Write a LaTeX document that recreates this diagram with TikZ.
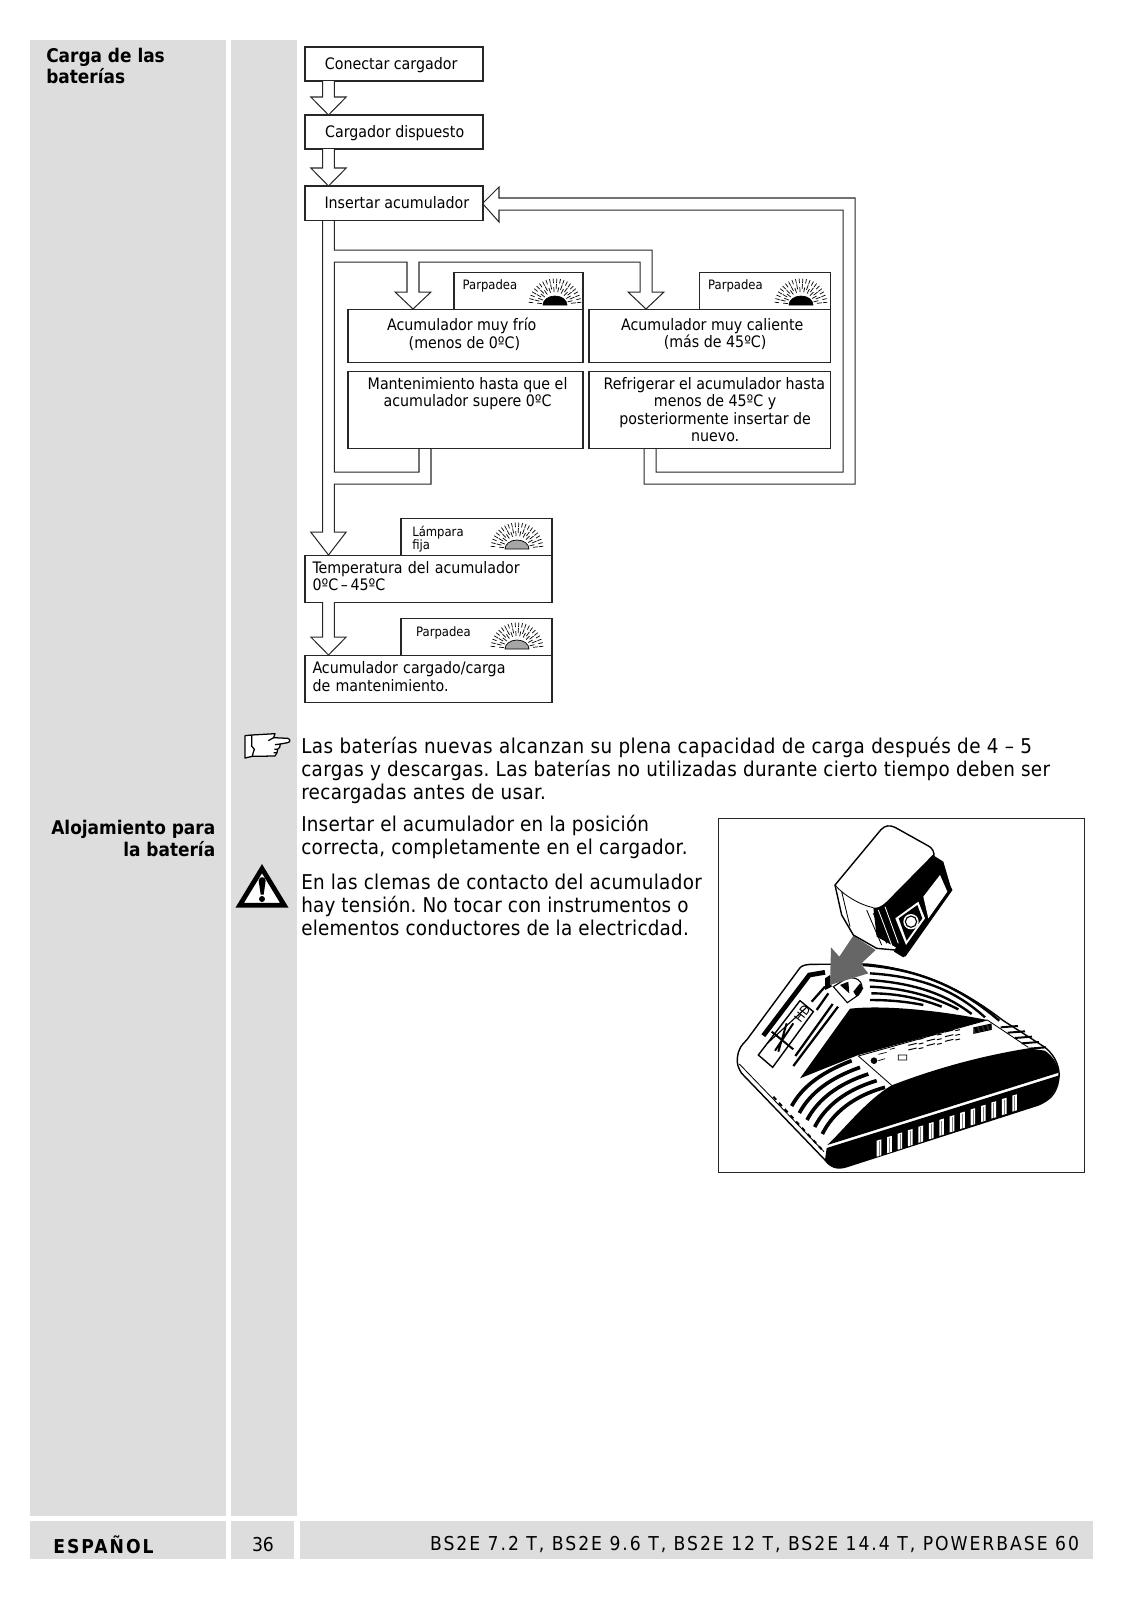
\documentclass[tikz,border=0pt]{standalone}
\usepackage{fontspec}
\setmainfont{DejaVu Sans Condensed}
\definecolor{pagegray}{HTML}{DDDDDD}
\definecolor{arrowgray}{HTML}{666666}
\def\pu{0.025cm} % one pixel of the page
\def\lowtext{\rule{0pt}{10.2pt}} % pushes a line down
\def\hightext#1{\rule[-#1pt]{0pt}{#1pt}} % pushes a block up
\tikzset{
  flowline/.style={draw=black!85,line width=0.72pt,fill=white,line join=miter},
  flowbox/.style={flowline,outer sep=0,anchor=north west,align=center,inner sep=0,
    font=\fontsize{11.25}{12.4}\selectfont},
  tabbox/.style={flowline,outer sep=0,anchor=south east,minimum height=37*\pu},
  tabtext/.style={font=\fontsize{9.2}{9.4}\selectfont,align=left,inner sep=0},
  bodytext/.style={anchor=west,align=left,inner sep=0,font=\fontsize{14.5}{16.45}\selectfont\frenchspacing\addfontfeatures{LetterSpace=1.7}},
  sidetext/.style={align=left,inner sep=0,font=\fontsize{13.4}{15.6}\selectfont\bfseries},
  foottext/.style={inner sep=0,font=\fontsize{13.6}{16}\selectfont},
}
% lamp symbol: x, y, fill of the dome
\newcommand{\lampsign}[3]{
  \foreach \a [count=\i] in {6,14,...,174}{ % rays
    \pgfmathsetmacro\rin{mod(\i,2)==0?13:16}
    \draw[black,line width=0.5pt] (#1,#2) ++(-\a:\rin) -- ++(-\a:5);
    \draw[black,line width=0.5pt] (#1,#2) ++(-\a:22) -- ++(-\a:4.5);
  }
  \draw[black,line width=0.5pt,fill=#3] (#1-12,#2) arc[start angle=180,end angle=360,x radius=12,y radius=9] -- cycle;
}
% hollow arrow going down: x of the tip, from node, to node
\newcommand{\hollowdown}[3]{
  \coordinate (tip) at (#1,0 |- #3.north);
  \path (tip) ++(-5.8,-18) coordinate (baseleft);
  \path (tip) ++(5.8,-18) coordinate (baseright);
  \draw[flowline] (baseleft |- #2.south) -- (baseleft) -- ++(-11.9,0)
    -- (tip) -- ++(17.7,-18) -- (baseright) -- (baseright |- #2.south);
}
\begin{document}
\begin{tikzpicture}[x=\pu,y=-\pu]
  \useasboundingbox (0,0) rectangle (1128,1600);
  % gray bands
  \fill[pagegray] (30,40) rectangle (226,1516);
  \fill[pagegray] (231,40) rectangle (297,1516);
  \fill[pagegray] (30,1521) rectangle (226,1559);
  \fill[pagegray] (231,1521) rectangle (294,1559);
  \fill[pagegray] (300,1521) rectangle (1093,1559);
  % side headings
  \node[sidetext,anchor=west] (carga) at (46,66) {Carga de las\\baterías};
  \node[sidetext,anchor=east,align=right] (alojamiento) at (215.5,838) {Alojamiento para\\la batería};
  % flow boxes
  \node[flowbox,minimum width=178*\pu,minimum height=34*\pu] (conectar) at (305,47) {\lowtext Conectar cargador\hspace{4pt}};
  \node[flowbox,minimum width=178*\pu,minimum height=34*\pu] (dispuesto) at (305,115) {\lowtext\hspace{1pt}Cargador dispuesto};
  \node[flowbox,minimum width=178*\pu,minimum height=34*\pu] (insertar) at (305,186) {\hspace{4pt}Insertar acumulador};
  \node[flowbox,minimum width=235*\pu,minimum height=53*\pu] (frio) at (348,309) {Acumulador muy frío\hspace*{5.2pt}\\(menos de 0ºC)\hspace{1.5pt}\hightext{3.4}};
  \node[flowbox,minimum width=241*\pu,minimum height=53*\pu] (caliente) at (589,309) {\hspace{4pt}Acumulador muy caliente\\\hspace{8pt}(más de 45ºC)\hightext{3.4}};
  \node[flowbox,minimum width=235*\pu,minimum height=77*\pu] (mantener) at (348,371) {\hspace{3pt}Mantenimiento hasta que el\\\hspace{3pt}acumulador supere 0ºC\\ \\ };
  \node[flowbox,minimum width=241*\pu,minimum height=77*\pu] (refrigerar) at (589,371) {\hspace{7pt}Refrigerar el acumulador hasta\\\hspace{8pt}menos de 45ºC y\\\hspace{8pt}posteriormente insertar de\\\hspace{8pt}nuevo.};
  \node[flowbox,align=left,minimum height=47*\pu,text width=232*\pu,inner xsep=7.5*\pu] (temperatura) at (305,555) {Temperatura del acumulador\\0ºC\,–\,45ºC\hightext{3.6}};
  \node[flowbox,align=left,minimum height=47*\pu,text width=232*\pu,inner xsep=7.5*\pu] (cargado) at (305,655) {Acumulador cargado/carga\\de mantenimiento.\hightext{3}};
  % lamp tabs
  \node[tabbox,minimum width=129*\pu] (tabfrio) at (frio.north east) {};
  \node[tabbox,minimum width=131*\pu] (tabcaliente) at (caliente.north east) {};
  \node[tabbox,minimum width=151*\pu] (tabfija) at (temperatura.north east) {};
  \node[tabbox,minimum width=151*\pu] (tabcargado) at (cargado.north east) {};
  \node[tabtext] (parpadeafrio) at (490,285.5) {Parpadea};
  \node[tabtext] (parpadeacaliente) at (735.5,285.5) {Parpadea};
  \node[tabtext,anchor=west] (lampara) at (412,539) {Lámpara\\fija};
  \node[tabtext] (parpadeacargado) at (443.5,632.5) {Parpadea};
  \lampsign{555}{305}{black}
  \lampsign{801}{305}{black}
  \lampsign{517}{549}{black!35}
  \lampsign{517}{649}{black!35}
  % hollow arrows
  \hollowdown{328.5}{conectar}{dispuesto}
  \hollowdown{328.5}{dispuesto}{insertar}
  \hollowdown{328.5}{temperatura}{cargado}
  \draw[flowline,fill=none] (322.7,0 |- insertar.south) -- (322.7,532) -- (310.7,532) -- (328.5,0 |- temperatura.north) -- (346.2,532)
    -- (334.3,532) -- (334.3,484) -- (431,484) -- (431,0 |- mantener.south); % down to the temperature box
  \draw[flowline,fill=none] (419,0 |- mantener.south) -- (419,472) -- (334.3,472) -- (334.3,262) -- (407,262) -- (407,292) -- (395,292)
    -- (413,0 |- frio.north) -- (431,292) -- (419,292) -- (419,262) -- (640,262) -- (640,292) -- (628,292)
    -- (646,0 |- caliente.north) -- (664,292) -- (652,292) -- (652,250) -- (334.3,250) -- (334.3,0 |- insertar.south); % both branches
  \draw[flowline,fill=none] (644,0 |- refrigerar.south) -- (644,484) -- (855,484) -- (855,198) -- (499,198) -- (499,187)
    -- (insertar.east) ++(0,1) -- (499,222) -- (499,210) -- (843,210) -- (843,472) -- (656,472) -- (656,0 |- refrigerar.south); % way back
  % pointing hand
  \begin{scope}[shift={(225,720)},scale=1/3,line width=0.9pt,line join=round]
    \draw[fill=white] (60,47) -- (80,45) -- (150,41) -- (146,53) -- (188,55) .. controls (197,58) and (197,66) .. (188,68) -- (166,72)
      -- (164,82) -- (158,88) -- (156,98) -- (150,108) -- (82,109) -- (60,114) -- cycle;
    \draw (80,45) -- (80,78) -- (88,88) -- (84,100) -- (82,109);
    \draw (146,53) -- (130,62) (166,72) -- (150,74) (158,88) -- (148,88) (156,98) -- (146,98);
  \end{scope}
  % warning sign
  \begin{scope}[shift={(225,720)},scale=1/3]
    \draw[line width=3.4pt,line join=miter,fill=white] (111,446) -- (178,556) -- (44,556) -- cycle;
    \fill[black] (101,482) .. controls (101,468) and (122,468) .. (122,482) -- (116,524) -- (107,524) -- cycle;
    \fill[black] (111,537) circle[radius=9];
  \end{scope}
  % body text
  \node[bodytext] (nuevas) at (301,770.5) {{\addfontfeatures{LetterSpace=2.4}Las baterías nuevas alcanzan su plena capacidad de carga después de 4 – 5}\\cargas y descargas. Las baterías no utilizadas durante cierto tiempo deben ser\\recargadas antes de usar.};
  \node[bodytext] (posicion) at (301,837) {\addfontfeatures{LetterSpace=1.1}Insertar el acumulador en la posición\\correcta, completamente en el cargador.};
  \node[bodytext] (clemas) at (301,905) {En las clemas de contacto del acumulador\\{\addfontfeatures{LetterSpace=1.1}hay tensión. No tocar con instrumentos o}\\{\addfontfeatures{LetterSpace=1.1}elementos conductores de la electricdad.}};
  % charger picture
  \draw[black!85,line width=0.7pt] (718,818) rectangle (1084,1172);
  \begin{scope}[shift={(710,810)},scale=1/3]
    % base
    \draw[black,line width=1pt,fill=white,line join=round] (82,745) .. controls (85,715) and (95,705) .. (110,690) -- (265,480) .. controls (272,468) and (280,465) .. (300,463)
      -- (470,462) .. controls (640,480) and (760,540) .. (880,632) -- (1005,712) .. controls (1040,740) and (1052,780) .. (1046,810)
      .. controls (1040,850) and (1020,870) .. (985,885) -- (410,1070) .. controls (380,1080) and (360,1070) .. (345,1050) -- (95,790) .. controls (85,775) and (80,760) .. (82,745) -- cycle;
    \draw[black,line width=0.6pt] (88,762) -- (342,1025);
    \draw[black,line width=1.4pt,dashed] (190,860) -- (335,1018);
    % black faces
    \fill[black] (270,805) -- (420,596) .. controls (520,585) and (680,600) .. (832,630) -- (445,735) -- cycle;
    \fill[black] (352,1005) .. controls (400,960) and (470,870) .. (545,826) .. controls (690,770) and (830,735) .. (955,715)
      -- (1005,722) .. controls (1030,740) and (1045,765) .. (1046,788) -- cycle;
    \fill[black] (350,1014) -- (1048,796) .. controls (1045,840) and (1020,870) .. (985,885) -- (410,1070) .. controls (380,1080) and (360,1070) .. (345,1050) -- cycle;
    % front slots
    \foreach \i in {0,...,13}{
      \fill[white] ({500+31.3*\i},{992-10.4*\i}) -- ++(14,-4) -- ++(0,48) -- ++(-14,4) -- cycle;
      \draw[black!50,line width=0.4pt] ({507+31.3*\i},{994-10.4*\i}) -- ++(0,44);
    }
    % stripes over the panel
    \foreach \xa/\ya/\xb/\yb/\xc/\yc/\xd/\yd in {458/465/640/478/760/540/868/632,480/490/640/500/740/545/825/622,478/510/620/520/710/555/785/612,
      480/530/590/535/670/560/745/598,484/550/560/550/630/565/695/590,480/570/540/570/590/575/640/585}{
      \draw[black,line width=1.7pt] (\xa,\ya) .. controls (\xb,\yb) and (\xc,\yc) .. (\xd,\yd);
    }
    % stripes at the front corner
    \foreach \i in {0,...,4}{
      \draw[black,line width=2.6pt] ({245+23*\i},{888+21*\i}) .. controls ({280+22*\i},{825+21*\i}) and ({340+23*\i},{785+18*\i}) .. ({425+25*\i},{752+20*\i});
    }
    % stripes at the rear rim
    \foreach \i in {0,...,4}{
      \draw[black,line width=1.4pt] ({872+21*\i},{652+16*\i}) -- ++(52,-4);
    }
    % display panel
    \draw[black,line width=0.6pt] (445,738) -- (832,630) -- (955,712);
    \draw[black,line width=0.6pt] (445,738) -- (545,826);
    \fill[black] (492,752) circle[radius=10];
    \foreach \d/\e in {0/0,55/-13,110/-26}{ % led marks
      \foreach \r in {0,1,2}{
        \draw[black,line width=0.7pt] ({595+\d},{692+\e+\r*14}) -- ++(25,-6) ++(6,2) -- ++(14,-3);
      }
    }
    \foreach \r in {0,...,5}{ % hatch
      \draw[black,line width=0.8pt] (790,{654+\r*3.2}) -- ++(55,-12);
    }
    \draw[black,line width=0.5pt] (505,733) -- (530,727) (540,718) -- (555,714) (505,752) -- (525,746) (565,735) rectangle (590,750);
    % rear pad
    \draw[black,line width=3.4pt] (160,677) -- (298,495) -- (345,487);
    \draw[black,line width=1pt,fill=white] (145,735) -- (270,572) -- (310,605) -- (188,772) -- cycle;
    \draw[black,line width=0.8pt] (172,700) -- (292,590);
    \draw[black,line width=1.4pt] (185,665) -- (250,718) (250,640) -- (195,722) (230,640) -- (205,725);
    \node[rotate=52,inner sep=0,font=\fontsize{9}{9}\selectfont] (hd) at (277,610) {HD};
    \draw[black,line width=1.6pt] (250,768) -- (384,590) (256,738) -- (368,582) (305,575) -- (345,530) (320,600) -- (355,550);
    \fill[black] (345,505) -- (360,495) -- (365,530) -- (345,540) -- cycle;
    \draw[black,line width=0.8pt,fill=white] (370,530) -- (410,505) .. controls (450,495) and (470,530) .. (445,555) -- (412,578) -- cycle;
    \fill[black] (390,525) -- (415,515) -- (418,550) -- cycle;
    \fill[black] (430,545) -- (450,520) -- (460,535) -- (440,560) -- cycle;
    % gray arrow
    \fill[arrowgray] (430,377) -- (497,420) -- (452,462) -- (475,490) -- (360,525) -- (363,412) -- (388,440) -- cycle;
    % battery
    \draw[black,line width=1pt,fill=white,line join=round] (375,225) -- (512,60) .. controls (525,45) and (540,45) .. (555,52) -- (650,105) .. controls (670,115) and (672,125) .. (672,140)
      -- (725,240) -- (585,438) -- (555,420) -- (500,415) -- (430,375) -- (395,315) -- cycle;
    \fill[black] (490,293) .. controls (500,295) and (515,290) .. (530,275) -- (668,135) -- (700,155) -- (725,240) -- (580,442) -- (552,425) -- (558,412) -- (500,380) -- cycle;
    \draw[black,line width=0.6pt] (375,225) .. controls (400,255) and (450,285) .. (490,293) (395,245) -- (420,350) (470,300) -- (515,405) (490,310) -- (530,400);
    \draw[white,line width=0.6pt] (505,300) -- (545,405) (525,290) -- (565,400);
    \fill[white] (640,260) -- (690,195) -- (712,245) -- (655,325) -- cycle;
    \fill[white] (556,325) -- (625,275) -- (645,325) -- (588,405) -- cycle;
    \fill[black] (566,325) -- (622,285) -- (637,325) -- (590,392) -- cycle;
    \fill[white] (603,335) circle[radius=23];
    \draw[black,line width=0.8pt] (603,335) circle[radius=17];
  \end{scope}
  % footer
  \node[foottext,anchor=west] (espanol) at (53,1544.5) {\bfseries\addfontfeatures{LetterSpace=10.5}ESPAÑOL};
  \node[foottext] (pagina) at (263,1544.5) {36};
  \node[foottext,anchor=east] (modelos) at (1079.5,1544.5) {\addfontfeatures{LetterSpace=10.4}BS2E 7.2 T, BS2E 9.6 T, BS2E 12 T, BS2E 14.4 T, POWERBASE 60};
\end{tikzpicture}
\end{document}
